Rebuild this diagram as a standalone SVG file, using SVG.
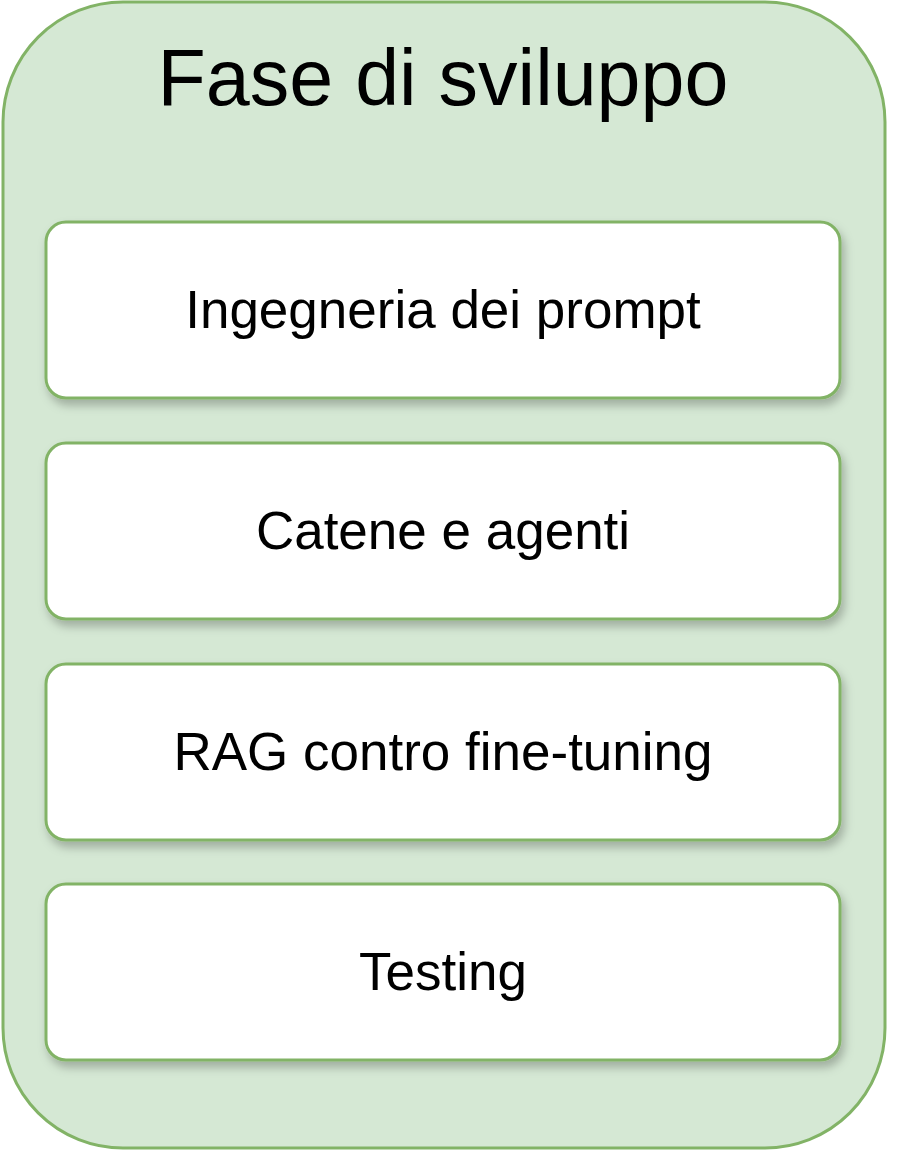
<svg xmlns="http://www.w3.org/2000/svg" width="922" height="1152" viewBox="0 0 922 1152">
<style>
.box{fill:#ffffff;stroke:#82b366;stroke-width:3;filter:url(#sh)}
.lbl{font-family:"Liberation Sans",Arial,sans-serif;font-size:53px;fill:#000;text-anchor:middle}
</style>
<defs>
<filter id="sh" x="-10%" y="-20%" width="120%" height="150%">
<feDropShadow dx="3" dy="6" stdDeviation="5" flood-color="#000" flood-opacity="0.25"/>
</filter>
</defs>
<rect width="922" height="1152" fill="#ffffff"/>
<g id="container">
<rect x="3" y="2" width="882" height="1146" rx="120" ry="120" fill="#d5e8d4" stroke="#82b366" stroke-width="3"/>
<text x="443" y="105" font-family="Liberation Sans,Arial,sans-serif" font-size="79" text-anchor="middle" fill="#000">Fase di sviluppo</text>
</g>
<g id="connectors"></g>
<g id="n1">
<rect class="box" x="46" y="222" width="794" height="176" rx="20" ry="20"/>
<text class="lbl" x="443" y="328">Ingegneria dei prompt</text>
</g>
<g id="n2">
<rect class="box" x="46" y="443" width="794" height="176" rx="20" ry="20"/>
<text class="lbl" x="443" y="549">Catene e agenti</text>
</g>
<g id="n3">
<rect class="box" x="46" y="664" width="794" height="176" rx="20" ry="20"/>
<text class="lbl" x="443" y="770">RAG contro fine-tuning</text>
</g>
<g id="n4">
<rect class="box" x="46" y="884" width="794" height="176" rx="20" ry="20"/>
<text class="lbl" x="443" y="990">Testing</text>
</g>
</svg>
